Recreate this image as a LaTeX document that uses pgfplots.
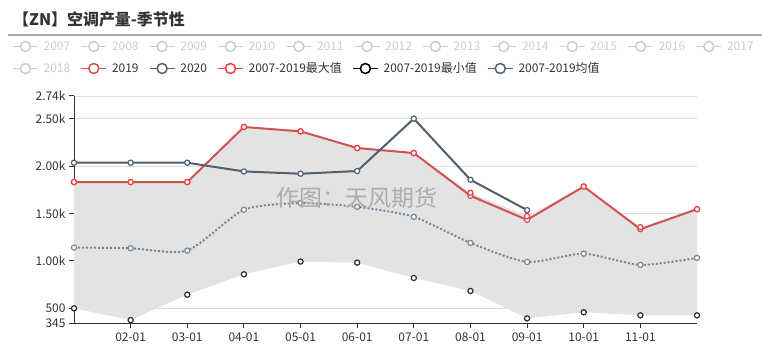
\documentclass[border=0pt]{standalone}
\usepackage{pgfplots}
\pgfplotsset{compat=1.18}
\usepgfplotslibrary{fillbetween}
\usepackage{fontspec}
\setmainfont{Noto Sans CJK SC}
\definecolor{cred}{RGB}{208,82,82}
\definecolor{cmax}{RGB}{245,60,60}
\definecolor{cnow}{RGB}{80,95,110}
\definecolor{cmean}{RGB}{120,135,150}
\definecolor{cmin}{RGB}{45,45,45}
\definecolor{cfill}{RGB}{227,227,227}
\definecolor{cgrid}{RGB}{222,222,222}
\definecolor{ctxt}{RGB}{51,51,51}
\definecolor{cinact}{RGB}{204,204,204}
\definecolor{csep}{RGB}{170,170,170}
\definecolor{cwm}{RGB}{172,172,172}
\pgfplotsset{
  legrow/.style={at={(0,0)}, anchor=south west, scale only axis, width=762bp, height=360bp,
    xmin=0, xmax=1, ymin=0, ymax=1, hide axis, legend columns=-1,
    legend image code/.code={\draw[##1,mark repeat=2,mark phase=2] plot coordinates {(0bp,0bp) (12.5bp,0bp) (25bp,0bp)};},
    legend style={draw=none, fill=none, inner sep=0pt, anchor=west,
      font=\fontsize{12}{14}\selectfont,
      nodes={inner sep=0pt},
      /tikz/every odd column/.append style={column sep=5bp},
      /tikz/every even column/.append style={column sep=10.3bp}}},
  li/.style={#1, line width=1.5bp, mark=*, mark size=5bp, mark options={solid, fill=white, line width=1.5bp}}
}
\begin{document}
\begin{tikzpicture}[x=1bp,y=1bp]
\path (0,0) rectangle (762,360);
\node[anchor=base west, font=\fontsize{16}{18}\selectfont\bfseries, text=ctxt, inner sep=0pt] at (13,335) {【ZN】空调产量-季节性};
\draw[csep, line width=1.5bp] (8,325) -- (762,325);

\begin{axis}[at={(74bp,37bp)}, anchor=south west, scale only axis,
  width=623bp, height=227bp,
  xmin=0, xmax=11, ymin=345, ymax=2740,
  axis x line*=bottom, axis y line*=left,
  axis line style={ctxt, line width=1bp, -},
  xtick={1,2,3,4,5,6,7,8,9,10},
  xticklabels={02-01,03-01,04-01,05-01,06-01,07-01,08-01,09-01,10-01,11-01},
  ytick={345,500,1000,1500,2000,2500,2740},
  yticklabels={345,500,1.00k,1.50k,2.00k,2.50k,2.74k},
  ymajorgrids, grid style={cgrid, line width=0.8bp},
  tick style={ctxt, line width=1bp}, major tick length=5bp, tick align=outside,
  ticklabel style={font=\fontsize{12}{14}\selectfont, text=ctxt},
  xticklabel style={yshift=-1.5bp},
  /pgf/number format/assume math mode=true,
  clip=false]
\addplot[name path=pmax, draw=none, forget plot] coordinates {(0,1832) (1,1832) (2,1832) (3,2413) (4,2367) (5,2191) (6,2138) (7,1719) (8,1472) (9,1785) (10,1356) (11,1546)};
\addplot[name path=pmin, draw=none, forget plot] coordinates {(0,500) (1,376) (2,644) (3,859) (4,993) (5,982) (6,820) (7,683) (8,394) (9,458) (10,426) (11,426)};
\addplot[cfill, forget plot] fill between[of=pmax and pmin];
% mean
\addplot[cmean, line width=2bp, dash pattern=on 2bp off 2bp, smooth, tension=0.4, mark=*, mark size=2.6bp, mark options={solid, fill=white, line width=1.2bp}] coordinates {(0,1141) (1,1134) (2,1109) (3,1539) (4,1610) (5,1571) (6,1465) (7,1190) (8,989) (9,1077) (10,958) (11,1032)};
% min
\addplot[only marks, cmin, mark=*, mark size=2.6bp, mark options={fill=white, line width=1.2bp}] coordinates {(0,500) (1,376) (2,644) (3,859) (4,993) (5,982) (6,820) (7,683) (8,394) (9,458) (10,426) (11,426)};
% 2019
\addplot[cred, line width=2bp, mark=*, mark size=2.6bp, mark options={fill=white, line width=1.2bp}] coordinates {(0,1832) (1,1832) (2,1832) (3,2413) (4,2367) (5,2191) (6,2138) (7,1687) (8,1433) (9,1785) (10,1335) (11,1546)};
% 2020
\addplot[cnow, line width=2bp, mark=*, mark size=2.6bp, mark options={fill=white, line width=1.2bp}] coordinates {(0,2036) (1,2036) (2,2036) (3,1944) (4,1920) (5,1948) (6,2501) (7,1856) (8,1536)};
% max
\addplot[only marks, cmax, mark=*, mark size=2.6bp, mark options={fill=white, line width=1.2bp}] coordinates {(0,1832) (1,1832) (2,1832) (3,2413) (4,2367) (5,2191) (6,2138) (7,1719) (8,1472) (9,1785) (10,1356) (11,1546)};
\end{axis}

\node[text=cwm, font=\fontsize{23}{26}\selectfont, inner sep=0pt] at (357,162) {作图：天风期货};

\begin{axis}[legrow, legend style={at={(12/762,313.5/360)}}]
\addlegendimage{li=cinact}\addlegendentry{\textcolor{cinact}{2007}}
\addlegendimage{li=cinact}\addlegendentry{\textcolor{cinact}{2008}}
\addlegendimage{li=cinact}\addlegendentry{\textcolor{cinact}{2009}}
\addlegendimage{li=cinact}\addlegendentry{\textcolor{cinact}{2010}}
\addlegendimage{li=cinact}\addlegendentry{\textcolor{cinact}{2011}}
\addlegendimage{li=cinact}\addlegendentry{\textcolor{cinact}{2012}}
\addlegendimage{li=cinact}\addlegendentry{\textcolor{cinact}{2013}}
\addlegendimage{li=cinact}\addlegendentry{\textcolor{cinact}{2014}}
\addlegendimage{li=cinact}\addlegendentry{\textcolor{cinact}{2015}}
\addlegendimage{li=cinact}\addlegendentry{\textcolor{cinact}{2016}}
\addlegendimage{li=cinact}\addlegendentry{\textcolor{cinact}{2017}}
\end{axis}
\begin{axis}[legrow, legend style={at={(12/762,291.5/360)}}]
\addlegendimage{li=cinact}\addlegendentry{\textcolor{cinact}{2018}}
\addlegendimage{li=cred}\addlegendentry{\textcolor{ctxt}{2019}}
\addlegendimage{li=cnow}\addlegendentry{\textcolor{ctxt}{2020}}
\addlegendimage{li=cmax}\addlegendentry{\textcolor{ctxt}{2007-2019最大值}}
\addlegendimage{li=black}\addlegendentry{\textcolor{ctxt}{2007-2019最小值}}
\addlegendimage{li=cnow}\addlegendentry{\textcolor{ctxt}{2007-2019均值}}
\end{axis}
\pgfresetboundingbox
\path (0,0) rectangle (762,360);
\end{tikzpicture}
\end{document}
